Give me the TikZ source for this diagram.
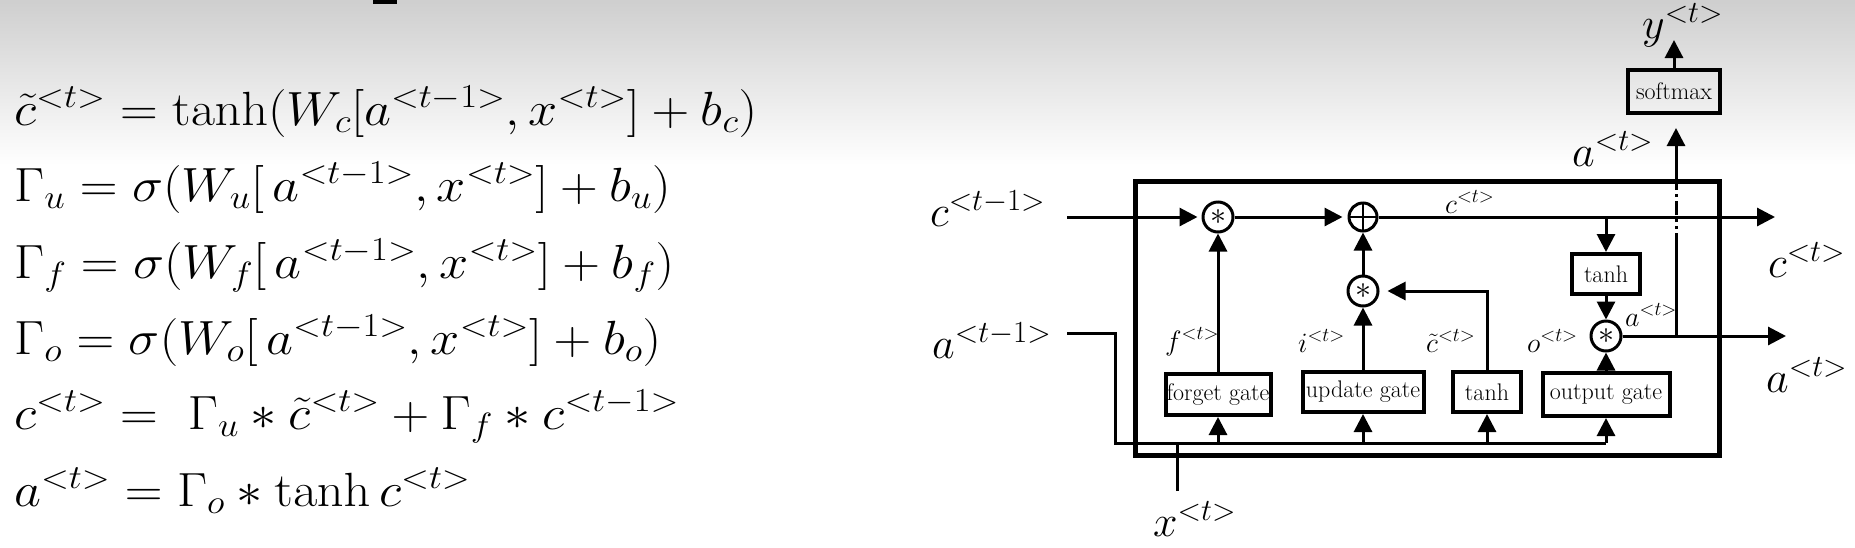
\RequirePackage{fix-cm}
\documentclass[tikz,border=0pt]{standalone}
\usepackage{amsmath}
\usepackage{graphicx}
\usetikzlibrary{arrows.meta,calc}
\tikzset{
  ln/.style={line width=3pt},
  arr/.style={line width=3pt,-{Triangle[length=18pt,width=18pt]}},
  gatebox/.style={draw,line width=4pt,rectangle,inner sep=0pt,font=\fontsize{24}{26}\selectfont},
  opnode/.style={draw,circle,line width=3pt,minimum size=30pt,inner sep=0pt,font=\fontsize{32}{34}\selectfont},
  bigl/.style={anchor=base west,inner sep=0pt,font=\fontsize{44}{50}\selectfont},
  smalll/.style={anchor=base west,inner sep=0pt,font=\fontsize{28}{32}\selectfont},
  eqn/.style={anchor=base west,inner sep=0pt,font=\fontsize{48}{54}\selectfont},
}
\newcommand{\eqx}[1]{\scalebox{1.09}[1]{$#1$}}
\begin{document}
\begin{tikzpicture}[x=1pt,y=-1pt]
\useasboundingbox (0,0) rectangle (1855,547);
\fill[white] (0,0) rectangle (1855,547);
\shade[top color=black!19,bottom color=white] (0,0) rectangle (1855,165);
\fill[black] (373,0) rectangle (397,4);

% equations
\node[eqn] (e1) at (14,125) {\eqx{\tilde{c}^{<t>} = \tanh(W_c[a^{<t-1>}, x^{<t>}] + b_c)}};
\node[eqn] (e2) at (14,201) {\eqx{\Gamma_u = \sigma(W_u[\,a^{<t-1>}, x^{<t>}] + b_u)}};
\node[eqn] (e3) at (14,278) {\eqx{\Gamma_f = \sigma(W_f[\,a^{<t-1>}, x^{<t>}] + b_f)}};
\node[eqn] (e4) at (14,354) {\eqx{\Gamma_o = \sigma(W_o[\,a^{<t-1>}, x^{<t>}] + b_o)}};
\node[eqn] (e5) at (14,429) {\eqx{c^{<t>} = \ \Gamma_u * \tilde{c}^{<t>} + \Gamma_f * c^{<t-1>}}};
\node[eqn] (e6) at (14,506) {\eqx{a^{<t>} = \Gamma_o * \tanh c^{<t>}}};

% outer cell
\draw[line width=5pt] (1135,181) rectangle (1719,455);

% operators
\node[opnode] (m1) at (1218,217) {$*$};
\node[opnode,minimum size=28pt,path picture={\draw[line width=2.5pt] (path picture bounding box.north) -- (path picture bounding box.south) (path picture bounding box.west) -- (path picture bounding box.east);}] (plus) at (1363,217) {};
\node[opnode] (m2) at (1363,291) {$*$};
\node[opnode] (m3) at (1606,336) {$*$};

% boxes
\node[gatebox,minimum width=105pt,minimum height=41pt] (forget) at (1218,394.5) {forget gate};
\node[gatebox,minimum width=121pt,minimum height=40pt] (update) at (1363,392) {update gate};
\node[gatebox,minimum width=68pt,minimum height=40pt] (tanhA) at (1487,392) {tanh};
\node[gatebox,minimum width=127pt,minimum height=43pt] (outg) at (1606,394.5) {output gate};
\node[gatebox,minimum width=68pt,minimum height=40pt] (tanhB) at (1606,274) {tanh};
\node[gatebox,minimum width=92pt,minimum height=43pt] (softmax) at (1674,91.5) {softmax};

% coordinates
\coordinate (cin) at (1067,217);
\coordinate (cout) at (1775,217);
\coordinate (ain) at (1067,333);
\coordinate (busL) at (1115,443);
\coordinate (busR) at (1606,443);
\coordinate (xin) at (1177,491);
\coordinate (aout) at (1786,336);
\coordinate (aj) at (1676,336);
\coordinate (atip) at (1676,128);
\coordinate (ytip) at (1674,40);
\coordinate (ctap) at (1606,217);
\coordinate (boxtop) at (1676,184);
\coordinate (dashend) at (1676,236);

% cell state
\draw[arr,shorten >=4pt] (cin) -- (m1);
\draw[arr,shorten >=5pt] (m1) -- (plus);
\draw[arr] (plus) -- (cout);
\draw[arr] (ctap) -- (tanhB);
\draw[arr] (tanhB) -- (m3);
\draw[arr] (outg) -- (m3);
\draw[ln] (m3) -- (aj);
\draw[arr] (aj) -- (aout);
\draw[ln] (aj) -- (dashend);
\draw[ln,dash pattern=on 3pt off 4pt on 3pt off 4pt on 3pt off 4pt on 14pt off 4pt on 3pt off 4pt on 10pt] (dashend) -- (boxtop);
\draw[arr] (boxtop) -- (atip);
\draw[arr] (softmax) -- (ytip);

% gates
\draw[arr] (forget) -- (m1);
\draw[arr] (update) -- (m2);
\draw[arr] (m2) -- (plus);
\draw[arr,shorten >=8pt] (tanhA.north) |- (m2.east);

% input bus
\draw[ln] (ain) -| (busL) -- (busR);
\draw[ln] (xin) -- (xin |- busL);
\draw[arr] (forget.south |- busL) -- (forget.south);
\draw[arr] (update.south |- busL) -- (update.south);
\draw[arr] (tanhA.south |- busL) -- (tanhA.south);
\draw[arr] (busR) -- (outg.south);

% labels
\node[bigl] (lcprev) at (930,226) {$c^{<t-1>}$};
\node[bigl] (laprev) at (932,358) {$a^{<t-1>}$};
\node[bigl] (lx) at (1153,536) {$x^{<t>}$};
\node[bigl] (ly) at (1642,38) {$y^{<t>}$};
\node[bigl] (latop) at (1572,166) {$a^{<t>}$};
\node[bigl] (lcout) at (1768,277) {$c^{<t>}$};
\node[bigl] (laout) at (1766,392) {$a^{<t>}$};
\node[smalll] (lcin) at (1445,213) {$c^{<t>}$};
\node[smalll] (lf) at (1165,350) {$f^{<t>}$};
\node[smalll] (li) at (1298,352) {$i^{<t>}$};
\node[smalll] (lct) at (1426,352) {$\tilde{c}^{<t>}$};
\node[smalll] (lo) at (1527,352) {$o^{<t>}$};
\node[smalll] (la) at (1625,326) {$a^{<t>}$};
\end{tikzpicture}
\end{document}
